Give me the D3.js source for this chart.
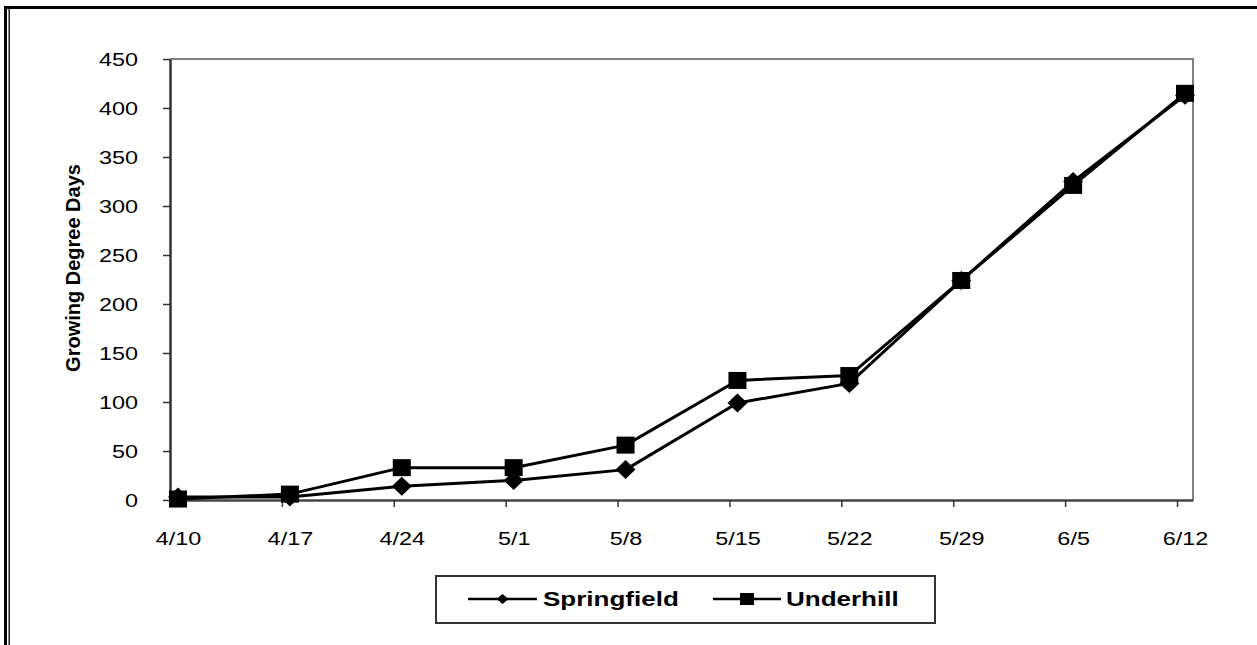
<!DOCTYPE html>
<html>
<head>
<meta charset="utf-8">
<script src="https://cdn.jsdelivr.net/npm/d3@7"></script>
<style>
  html, body { margin: 0; padding: 0; background: #fff; }
  svg { display: block; }
  text { font-family: "Liberation Sans", Arial, sans-serif; fill: #000; }
</style>
</head>
<body>
<svg id="chart" width="1257" height="645"></svg>
<script>
// Weekly sampling dates and accumulated growing degree days
const categories = ["4/10", "4/17", "4/24", "5/1", "5/8", "5/15", "5/22", "5/29", "6/5", "6/12"];
const springfield = [3, 3, 14, 20, 31, 99, 119, 224, 325, 413];
const underhill   = [1, 6, 33, 33, 56, 122, 127, 224, 321, 415];
const yTicks = [0, 50, 100, 150, 200, 250, 300, 350, 400, 450];
const seriesNames = ["Springfield", "Underhill"];
const yTitle = "Growing Degree Days";

const W = 1257, H = 645;
const plot = { left: 170, right: 1193, top: 59, bottom: 500 };
const SX = 1.3; // horizontal widening applied to axis and legend lettering

const svg = d3.select("#chart");
const parse = d3.utcParse("%Y/%m/%d");
const dates = categories.map(c => { const [m, d] = c.split("/"); return parse(`2010/${m}/${d}`); });
const DAY = 864e5;

const x = d3.scaleUtc()
  .domain([dates[0], new Date(+dates[dates.length - 1] + DAY)])
  .range([plot.left, plot.right]);
const y = d3.scaleLinear().domain([0, 450]).range([plot.bottom, plot.top]);
const halfDay = x(new Date(+dates[0] + DAY / 2)) - x(dates[0]);

function widen(sel) {
  sel.each(function () {
    const t = d3.select(this);
    const len = this.getComputedTextLength();
    t.attr("textLength", len * SX).attr("lengthAdjust", "spacingAndGlyphs");
  });
}

// Outer frame
svg.append("line").attr("x1", 4).attr("x2", W).attr("y1", 7.5).attr("y2", 7.5)
  .attr("stroke", "#000").attr("stroke-width", 3);
svg.append("line").attr("x1", 5.5).attr("x2", 5.5).attr("y1", 6).attr("y2", H)
  .attr("stroke", "#000").attr("stroke-width", 3);
svg.append("line").attr("x1", 9.2).attr("x2", 9.2).attr("y1", 9).attr("y2", H)
  .attr("stroke", "#222").attr("stroke-width", 1.5);

// Plot area border (top and right)
svg.append("path")
  .attr("d", `M${plot.left},${plot.top}H${plot.right}V${plot.bottom}`)
  .attr("fill", "none").attr("stroke", "#808080").attr("stroke-width", 2);

// Y axis
const yAxis = svg.append("g")
  .attr("transform", `translate(${plot.left},0)`)
  .call(d3.axisLeft(y).tickValues(yTicks).tickSize(7).tickSizeOuter(0).tickFormat(d3.format("d")));
yAxis.select(".domain").attr("stroke", "#333").attr("stroke-width", 2.5);
yAxis.selectAll(".tick line").attr("stroke", "#333").attr("stroke-width", 1.5);
yAxis.selectAll(".tick text")
  .attr("x", -32).attr("dy", "0.36em")
  .style("font-size", "18px").attr("font-family", null)
  .call(widen);

// X axis
const xAxis = svg.append("g")
  .attr("transform", `translate(0,${plot.bottom})`)
  .call(d3.axisBottom(x).tickValues(dates).tickSize(7).tickSizeOuter(0)
    .tickFormat((d, i) => categories[i]));
xAxis.select(".domain").attr("stroke", "#444").attr("stroke-width", 2.5);
xAxis.selectAll(".tick line").attr("stroke", "#333").attr("stroke-width", 1.5);
xAxis.selectAll(".tick text")
  .attr("x", halfDay).attr("y", 39).attr("dy", "0.36em")
  .style("font-size", "18px").attr("font-family", null)
  .call(widen);

// Y axis title
svg.append("text")
  .attr("transform", `translate(73,268) rotate(-90)`)
  .attr("text-anchor", "middle").attr("dy", "0.36em")
  .style("font-size", "20px").style("font-weight", "bold").text(yTitle);

// Series
const line = d3.line().x((d, i) => x(dates[i]) + halfDay).y(d => y(d));
const diamond = (cx, cy, rx, ry) => `M${cx},${cy - ry}L${cx + rx},${cy}L${cx},${cy + ry}L${cx - rx},${cy}Z`;

const series = [
  { name: seriesNames[0], values: springfield, shape: "diamond" },
  { name: seriesNames[1], values: underhill, shape: "square" }
];

series.forEach(s => {
  svg.append("path").datum(s.values).attr("d", line)
    .attr("fill", "none").attr("stroke", "#000").attr("stroke-width", 3).attr("stroke-linejoin", "round");
});
series.forEach(s => {
  const g = svg.append("g");
  s.values.forEach((v, i) => {
    const cx = x(dates[i]) + halfDay, cy = y(v);
    if (s.shape === "diamond") {
      g.append("path").attr("d", diamond(cx, cy, 10, 9.5)).attr("fill", "#000");
    } else {
      g.append("rect").attr("x", cx - 9).attr("y", cy - 8.5).attr("width", 18).attr("height", 17).attr("fill", "#000");
    }
  });
});

// Legend
const lg = { x: 436, y: 576, w: 499, h: 47 };
svg.append("rect").attr("x", lg.x).attr("y", lg.y).attr("width", lg.w).attr("height", lg.h)
  .attr("fill", "#fff").attr("stroke", "#333").attr("stroke-width", 2);
const legendItems = [
  { name: seriesNames[0], shape: "diamond", x1: 468, x2: 537, tx: 543 },
  { name: seriesNames[1], shape: "square", x1: 713, x2: 781, tx: 786 }
];
const ly = lg.y + lg.h / 2 - 0.5;
legendItems.forEach(it => {
  svg.append("line").attr("x1", it.x1).attr("x2", it.x2).attr("y1", ly).attr("y2", ly)
    .attr("stroke", "#000").attr("stroke-width", 2.5);
  const cx = (it.x1 + it.x2) / 2;
  if (it.shape === "diamond") {
    svg.append("path").attr("d", diamond(cx, ly, 6, 5)).attr("fill", "#000");
  } else {
    svg.append("rect").attr("x", cx - 7).attr("y", ly - 6).attr("width", 14).attr("height", 12).attr("fill", "#000");
  }
  svg.append("text").attr("x", it.tx).attr("y", ly).attr("dy", "0.36em")
    .style("font-size", "20px").style("font-weight", "bold").text(it.name)
    .call(widen);
});
</script>
</body>
</html>
